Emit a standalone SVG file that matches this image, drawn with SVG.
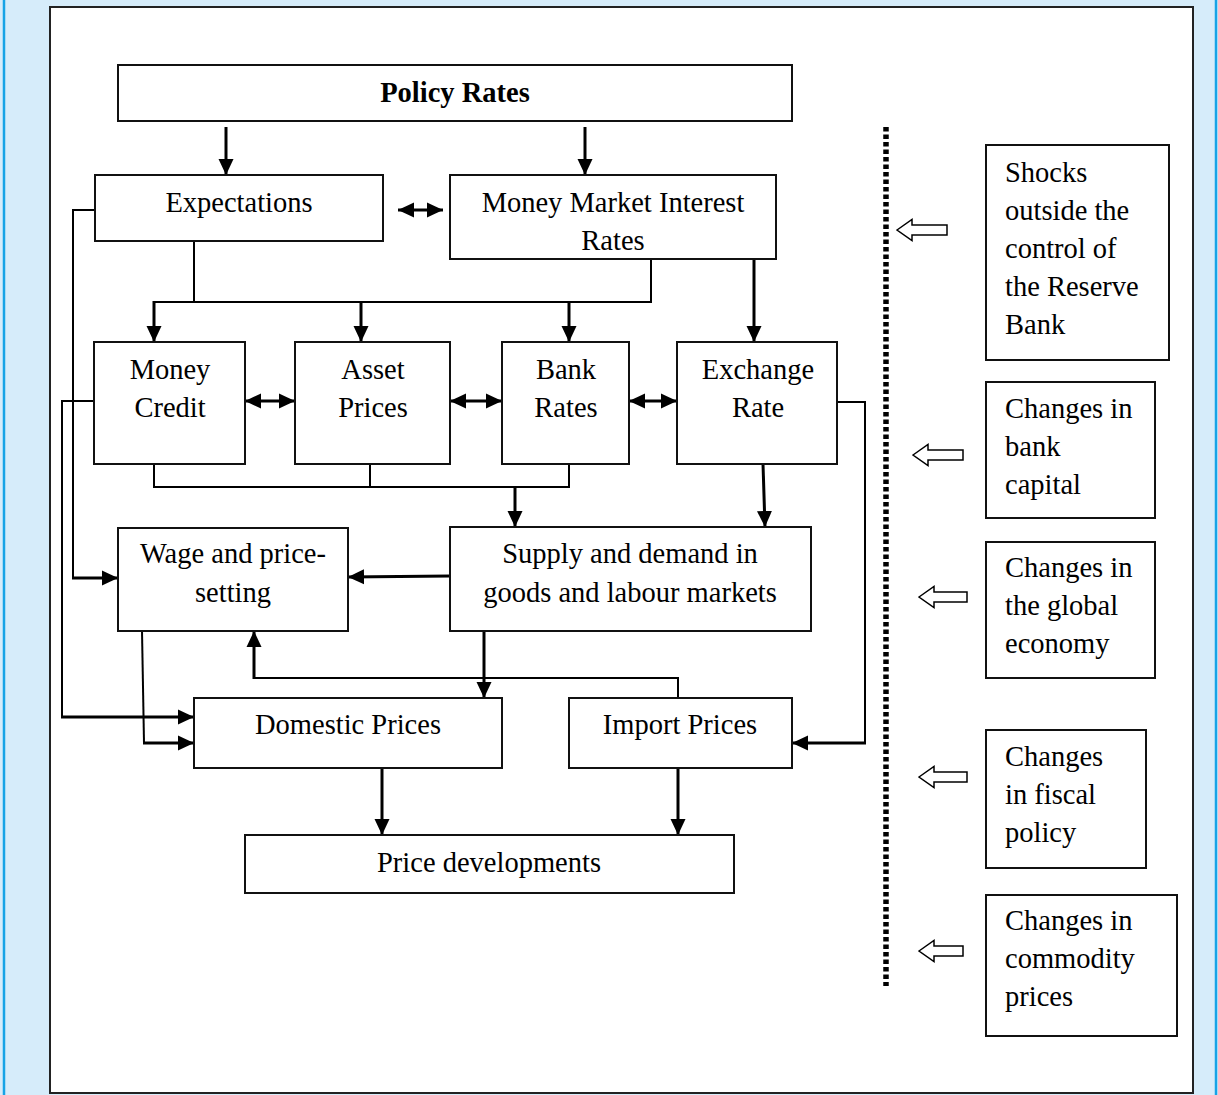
<svg xmlns="http://www.w3.org/2000/svg" width="1218" height="1095" viewBox="0 0 1218 1095">
<defs>
<style>
.box{fill:#fff;stroke:#111;stroke-width:2}
.t{font-family:"Liberation Serif","Times New Roman",serif;font-size:28.5px;fill:#000}
.c{text-anchor:middle}
.b{font-weight:bold}
.thin{fill:none;stroke:#000;stroke-width:2}
.arr{fill:none;stroke:#000;stroke-width:3;marker-end:url(#ah)}
.dbl{fill:none;stroke:#000;stroke-width:3;marker-end:url(#ah);marker-start:url(#ahs)}
.hol{fill:#fff;stroke:#000;stroke-width:1.5}
</style>
<marker id="ah" markerUnits="userSpaceOnUse" markerWidth="16" markerHeight="16" refX="16" refY="8" orient="auto" viewBox="0 0 16 16"><path d="M0,0.5 L16,8 L0,15.5 z" fill="#000"/></marker>
<marker id="ahs" markerUnits="userSpaceOnUse" markerWidth="16" markerHeight="16" refX="16" refY="8" orient="auto-start-reverse" viewBox="0 0 16 16"><path d="M0,0.5 L16,8 L0,15.5 z" fill="#000"/></marker>
</defs>
<rect x="0" y="0" width="1218" height="1095" fill="#D6ECFA"/>
<line x1="4" y1="0" x2="4" y2="1095" stroke="#17A3E6" stroke-width="2.5"/>
<line x1="1216" y1="0" x2="1216" y2="1095" stroke="#17A3E6" stroke-width="2.5"/>
<rect x="50" y="7" width="1143" height="1086" fill="#fff" stroke="#222" stroke-width="2"/>

<g id="connectors">
<line class="arr" x1="226" y1="127" x2="226" y2="175"/>
<line class="arr" x1="585" y1="127" x2="585" y2="175"/>
<line class="dbl" x1="398" y1="210" x2="443" y2="210"/>
<line class="thin" x1="194" y1="241" x2="194" y2="302"/>
<polyline class="thin" points="153,302 651,302 651,259"/>
<line class="arr" x1="154" y1="301" x2="154" y2="342"/>
<line class="arr" x1="361" y1="302" x2="361" y2="342"/>
<line class="arr" x1="569" y1="302" x2="569" y2="342"/>
<line class="arr" x1="754" y1="259" x2="754" y2="342"/>
<line class="dbl" x1="245" y1="401" x2="295" y2="401"/>
<line class="dbl" x1="450" y1="401" x2="502" y2="401"/>
<line class="dbl" x1="629" y1="401" x2="677" y2="401"/>
<polyline class="thin" points="154,464 154,487 569,487 569,464"/>
<line class="thin" x1="370" y1="464" x2="370" y2="487"/>
<line class="arr" x1="515" y1="487" x2="515" y2="527"/>
<line class="arr" x1="763" y1="464" x2="765" y2="527"/>
<line class="arr" x1="450" y1="576" x2="348" y2="577"/>
<polyline class="thin" points="95,210 73,210 73,578"/>
<line class="arr" x1="72" y1="578" x2="118" y2="578"/>
<polyline class="thin" points="94,401 62,401 62,717"/>
<line class="arr" x1="61" y1="717" x2="194" y2="717"/>
<polyline class="thin" points="142,631 144,743"/>
<line class="arr" x1="143" y1="743" x2="194" y2="743"/>
<line class="arr" x1="484" y1="631" x2="484" y2="698"/>
<polyline class="thin" points="678,698 678,678 254,678"/>
<line class="arr" x1="254" y1="679" x2="254" y2="631"/>
<polyline class="thin" points="837,402 865,402 865,743"/>
<line class="arr" x1="866" y1="743" x2="792" y2="743"/>
<line class="arr" x1="382" y1="768" x2="382" y2="835"/>
<line class="arr" x1="678" y1="768" x2="678" y2="835"/>
<line x1="886" y1="127" x2="886" y2="986" stroke="#000" stroke-width="5.5" stroke-dasharray="4.5 3"/>
<path class="hol" d="M897,230 L912,219.5 L912,225 L947,225 L947,235 L912,235 L912,240.5 Z"/>
<path class="hol" d="M913,455 L928,444.5 L928,450 L963,450 L963,460 L928,460 L928,465.5 Z"/>
<path class="hol" d="M919,597 L934,586.5 L934,592 L967,592 L967,602 L934,602 L934,607.5 Z"/>
<path class="hol" d="M919,777 L934,766.5 L934,772 L967,772 L967,782 L934,782 L934,787.5 Z"/>
<path class="hol" d="M919,951 L934,940.5 L934,946 L963,946 L963,956 L934,956 L934,961.5 Z"/>
</g>

<g id="policy-rates"><rect class="box" x="118" y="65" width="674" height="56"/><text class="t c b" x="455" y="102">Policy Rates</text></g>
<g id="expectations"><rect class="box" x="95" y="175" width="288" height="66"/><text class="t c" x="239" y="212">Expectations</text></g>
<g id="money-market"><rect class="box" x="450" y="175" width="326" height="84"/><text class="t c" x="613" y="212">Money Market Interest</text><text class="t c" x="613" y="250">Rates</text></g>
<g id="money-credit"><rect class="box" x="94" y="342" width="151" height="122"/><text class="t c" x="170" y="379">Money</text><text class="t c" x="170" y="417">Credit</text></g>
<g id="asset-prices"><rect class="box" x="295" y="342" width="155" height="122"/><text class="t c" x="373" y="379">Asset</text><text class="t c" x="373" y="417">Prices</text></g>
<g id="bank-rates"><rect class="box" x="502" y="342" width="127" height="122"/><text class="t c" x="566" y="379">Bank</text><text class="t c" x="566" y="417">Rates</text></g>
<g id="exchange-rate"><rect class="box" x="677" y="342" width="160" height="122"/><text class="t c" x="758" y="379">Exchange</text><text class="t c" x="758" y="417">Rate</text></g>
<g id="wage"><rect class="box" x="118" y="528" width="230" height="103"/><text class="t c" x="233" y="563">Wage and price-</text><text class="t c" x="233" y="602">setting</text></g>
<g id="supply"><rect class="box" x="450" y="527" width="361" height="104"/><text class="t c" x="630" y="563">Supply and demand in</text><text class="t c" x="630" y="602">goods and labour markets</text></g>
<g id="domestic"><rect class="box" x="194" y="698" width="308" height="70"/><text class="t c" x="348" y="734">Domestic Prices</text></g>
<g id="import"><rect class="box" x="569" y="698" width="223" height="70"/><text class="t c" x="680" y="734">Import Prices</text></g>
<g id="price-dev"><rect class="box" x="245" y="835" width="489" height="58"/><text class="t c" x="489" y="872">Price developments</text></g>

<g id="shocks"><rect class="box" x="986" y="145" width="183" height="215"/><text class="t" x="1005" y="182">Shocks</text><text class="t" x="1005" y="220">outside the</text><text class="t" x="1005" y="258">control of</text><text class="t" x="1005" y="296">the Reserve</text><text class="t" x="1005" y="334">Bank</text></g>
<g id="bank-capital"><rect class="box" x="986" y="382" width="169" height="136"/><text class="t" x="1005" y="418">Changes in</text><text class="t" x="1005" y="456">bank</text><text class="t" x="1005" y="494">capital</text></g>
<g id="global"><rect class="box" x="986" y="542" width="169" height="136"/><text class="t" x="1005" y="577">Changes in</text><text class="t" x="1005" y="615">the global</text><text class="t" x="1005" y="653">economy</text></g>
<g id="fiscal"><rect class="box" x="986" y="730" width="160" height="138"/><text class="t" x="1005" y="766">Changes</text><text class="t" x="1005" y="804">in fiscal</text><text class="t" x="1005" y="842">policy</text></g>
<g id="commodity"><rect class="box" x="986" y="895" width="191" height="141"/><text class="t" x="1005" y="930">Changes in</text><text class="t" x="1005" y="968">commodity</text><text class="t" x="1005" y="1006">prices</text></g>
</svg>
